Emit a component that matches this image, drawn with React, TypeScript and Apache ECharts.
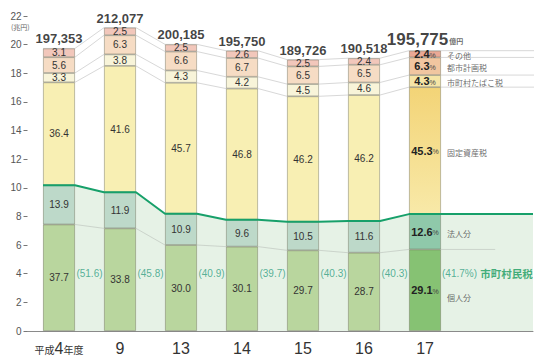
import React, { useEffect, useRef } from "react";
import * as echarts from "echarts";

const years = ["平成4年度", "9", "13", "14", "15", "16", "17"];
const totals = [197353, 212077, 200185, 195750, 189726, 190518, 195775];
const kojin = [37.7, 33.8, 30.0, 30.1, 29.7, 28.7, 29.1];
const hojin = [13.9, 11.9, 10.9, 9.6, 10.5, 11.6, 12.6];
const kotei = [36.4, 41.6, 45.7, 46.8, 46.2, 46.2, 45.3];
const tabako = [3.3, 3.8, 4.3, 4.2, 4.5, 4.6, 4.3];
const toshi = [5.6, 6.3, 6.6, 6.7, 6.5, 6.5, 6.3];
const sonota = [3.1, 2.5, 2.5, 2.6, 2.5, 2.4, 2.4];
const shichoson = [51.6, 45.8, 40.9, 39.7, 40.3, 40.3, 41.7];

const segNames = ["個人分", "法人分", "固定資産税", "市町村たばこ税", "都市計画税", "その他"];
const segPcts = [kojin, hojin, kotei, tabako, toshi, sonota];
const segColors = ["#b9d69e", "#bdd9c9", "#f8efb3", "#f8f4d9", "#f6dcc4", "#f2c7bb"];
const hiColors: any[] = [
  "#86c273",
  "#8fc9aa",
  { type: "linear", x: 0, y: 0, x2: 0, y2: 1, colorStops: [{ offset: 0, color: "#f3d477" }, { offset: 1, color: "#f8e9a8" }] },
  "#f6e5a6",
  "#f1c6a0",
  "#eaa895",
];

const HW = 0.262;
const XMIN = -0.516;
const XMAX = 7.77;
const NUM = '"Liberation Sans", Arial, sans-serif';
const JP = '"Noto Sans CJK JP", "Noto Sans", sans-serif';

export default function App() {
  const ref = useRef<HTMLDivElement>(null);
  useEffect(() => {
    const chart = echarts.init(ref.current!, null, { renderer: "svg" });
    const segVals = segPcts.map((p) => p.map((v, i) => (totals[i] / 10000) * v / 100));
    const cum: number[][] = [];
    segVals.forEach((vals, k) => {
      cum.push(vals.map((v, i) => v + (k > 0 ? cum[k - 1][i] : 0)));
    });
    const edge = (c: number[], endX: number) => {
      const pts: number[][] = [];
      c.forEach((v, i) => {
        pts.push([i - HW, v]);
        pts.push([i + HW, v]);
      });
      pts.push([endX, c[c.length - 1]]);
      return pts;
    };

    const barSeries = segNames.map((name, k) => ({
      name,
      type: "bar",
      stack: "total",
      xAxisIndex: 1,
      yAxisIndex: 1,
      barWidth: 32,
      z: 2,
      itemStyle: { color: segColors[k], borderColor: "rgba(110,110,90,0.55)", borderWidth: 0.8 },
      label: {
        show: true,
        position: "inside",
        fontSize: 10,
        color: "#333",
        fontFamily: NUM,
        formatter: (p: any) => segPcts[k][p.dataIndex].toFixed(1),
      },
      data: years.map((_, i) =>
        i === 6
          ? {
              value: segVals[k][i],
              itemStyle: { color: hiColors[k] },
              label: {
                formatter: `{b|${segPcts[k][i].toFixed(1)}}{p|%}`,
                rich: {
                  b: { fontSize: 11, fontWeight: "bold", color: "#222", fontFamily: NUM },
                  p: { fontSize: 7, color: "#444", fontFamily: NUM, padding: [2, 0, 0, 0] },
                },
              },
            }
          : segVals[k][i]
      ),
    }));

    const upperLines = [2, 3, 4, 5].map((k) => ({
      type: "line",
      z: 1,
      silent: true,
      symbol: "none",
      clip: false,
      lineStyle: { color: "#d8d8d8", width: 1 },
      data: edge(cum[k], 8.0),
    }));

    const option: any = {
      animation: false,
      grid: [
        { left: 27.5, right: 15, top: 16, bottom: 33, containLabel: false, outerBoundsMode: "none" },
        { left: 28.5, right: 92.5, top: 16, bottom: 33, containLabel: false, outerBoundsMode: "none" },
      ],
      xAxis: [
        {
          type: "value",
          gridIndex: 0,
          min: XMIN,
          max: XMAX,
          axisLine: { show: true, onZero: false, lineStyle: { color: "#8a8a8a", width: 1 } },
          axisTick: { show: false },
          splitLine: { show: false },
          axisLabel: {
            customValues: years.map((_, i) => i),
            margin: 9,
            color: "#333",
            fontSize: 16,
            fontFamily: NUM,
            formatter: (v: number) => {
              const s = years[Math.round(v)];
              if (s === undefined) return "";
              if (s.startsWith("平成")) return "{s|平成}{b|4}{s|年度}";
              return s;
            },
            rich: {
              s: { fontSize: 10, color: "#333", fontFamily: JP, padding: [3, 0, 0, 0] },
              b: { fontSize: 16, color: "#333", fontFamily: NUM },
            },
          },
        },
        {
          type: "category",
          gridIndex: 1,
          data: years,
          show: false,
          boundaryGap: true,
        },
      ],
      yAxis: [
        {
          type: "value",
          gridIndex: 0,
          min: 0,
          max: 22,
          interval: 2,
          axisLine: { show: false, onZero: false },
          axisTick: { show: true, length: 4, lineStyle: { color: "#777" } },
          splitLine: { show: false },
          axisLabel: {
            margin: 6,
            color: "#555",
            fontSize: 10,
            fontFamily: NUM,
          },
        },
        {
          type: "value",
          gridIndex: 1,
          min: 0,
          max: 22,
          interval: 2,
          show: false,
        },
      ],
      graphic: [
        {
          type: "text",
          left: 11,
          top: 23,
          style: { text: "(兆円)", fontSize: 7, fill: "#666", fontFamily: JP },
        },
      ],
      series: [
        {
          type: "line",
          z: 0,
          silent: true,
          symbol: "none",
          lineStyle: { width: 0, opacity: 0 },
          areaStyle: { color: "#e6f2e6", opacity: 1 },
          data: edge(cum[1], XMAX),
        },
        {
          type: "line",
          z: 1,
          silent: true,
          symbol: "none",
          lineStyle: { color: "rgba(170,175,170,0.45)", width: 1 },
          data: edge(cum[0], 7.15),
        },
        ...upperLines,
        ...barSeries,
        {
          type: "line",
          z: 3,
          silent: true,
          symbol: "none",
          lineStyle: { color: "#17a06a", width: 2 },
          data: edge(cum[1], XMAX),
        },
        {
          type: "scatter",
          z: 4,
          silent: true,
          symbolSize: 0,
          label: {
            show: true,
            position: "top",
            distance: 3,
            fontSize: 13,
            fontWeight: "bold",
            color: "#111",
            fontFamily: NUM,
            formatter: (p: any) => {
              const t = totals[p.dataIndex].toLocaleString("en-US");
              return p.dataIndex === 6 ? `{big|${t}}{u|億円}` : t;
            },
            rich: {
              big: { fontSize: 17, fontWeight: "bold", color: "#111", fontFamily: NUM },
              u: { fontSize: 7, color: "#444", fontFamily: JP, padding: [4, 0, 0, 1] },
            },
          },
          data: cum[5].map((v, i) => [i, v]),
        },
        {
          type: "scatter",
          z: 4,
          silent: true,
          symbolSize: 0,
          label: {
            show: true,
            position: "inside",
            fontSize: 10,
            color: "#2f9e82",
            fontFamily: NUM,
            formatter: (p: any) => `(${shichoson[p.dataIndex].toFixed(1)})`,
          },
          data: shichoson.slice(0, 6).map((_, i) => [i + 0.5, 4]),
        },
        {
          type: "scatter",
          z: 4,
          silent: true,
          symbolSize: 0,
          label: {
            show: true,
            position: "right",
            distance: 1,
            formatter: `{a|(${shichoson[6].toFixed(1)}%)} {b|市町村民税}`,
            rich: {
              a: { fontSize: 10, color: "#2f9e82", fontFamily: NUM },
              b: { fontSize: 10.5, fontWeight: "bold", color: "#159a5c", fontFamily: JP },
            },
          },
          data: [[6 + HW, 4]],
        },
        {
          type: "scatter",
          z: 4,
          silent: true,
          symbolSize: 0,
          label: {
            show: true,
            position: "right",
            distance: 6,
            fontSize: 8,
            color: "#444",
            fontFamily: JP,
            formatter: (p: any) => segNames[p.dataIndex],
          },
          data: segNames.map((_, k) => {
            const top = cum[k][6];
            const bot = k > 0 ? cum[k - 1][6] : 0;
            return [6 + HW, (top + bot) / 2 - (k === 0 ? 0.5 : 0.1)];
          }),
        },
      ],
    };
    chart.setOption(option);
    return () => chart.dispose();
  }, []);
  return <div ref={ref} style={{ position: "absolute", left: 0, top: 0, width: 548, height: 364 }} />;
}
